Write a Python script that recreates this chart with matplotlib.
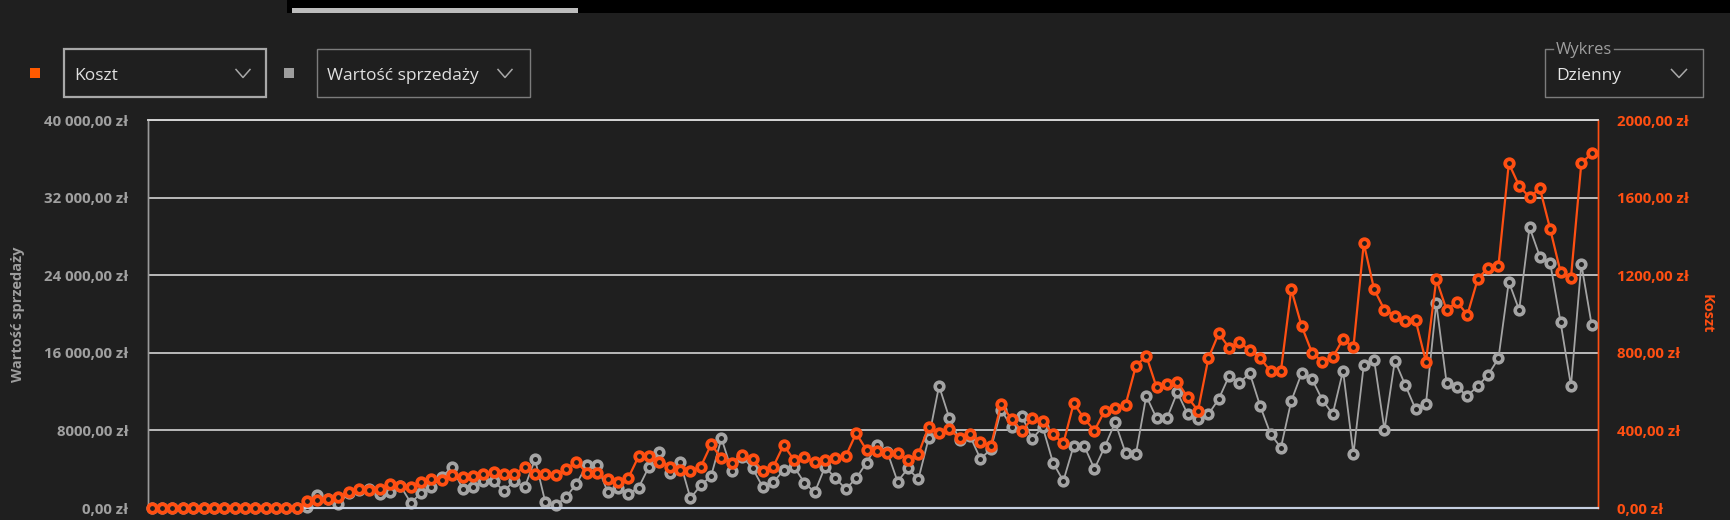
import numpy as np
import matplotlib
matplotlib.use("Agg")
import matplotlib.pyplot as plt
from matplotlib.patches import Rectangle
from matplotlib.lines import Line2D
from matplotlib.ticker import FuncFormatter, FixedLocator

plt.rcParams['font.family'] = ['Open Sans', 'DejaVu Sans']

# daily values (140 days)
koszt = [
    0, 0, 0, 0, 0, 0, 0, 0, 0, 0, 0, 0, 0, 0, 0,
    36, 43, 45, 55, 84, 98, 93, 98, 124, 113, 110, 136, 148, 144, 172,
    158, 164, 174, 185, 177, 175, 210, 177, 175, 170, 200, 239, 180, 180, 148,
    133, 155, 266, 268, 237, 213, 196, 191, 213, 328, 256, 234, 275, 251, 192,
    213, 325, 247, 261, 239, 247, 256, 268, 385, 299, 295, 282, 285, 247, 278,
    419, 388, 405, 359, 381, 342, 320, 536, 457, 397, 462, 448, 381, 333, 540,
    462, 399, 502, 514, 531, 732, 785, 622, 638, 651, 571, 502, 772, 900, 826,
    854, 814, 772, 706, 706, 1127, 938, 801, 754, 776, 871, 828, 1364, 1127, 1021,
    991, 966, 969, 754, 1179, 1021, 1063, 995, 1180, 1239, 1248, 1777, 1660, 1602, 1648,
    1437, 1215, 1187, 1777, 1828,
]
wartosc = [
    0, 0, 0, 0, 0, 0, 0, 0, 0, 0, 0, 0, 0, 0, 0,
    134, 1310, 900, 412, 1500, 1900, 2000, 1400, 1680, 2300, 550, 1515, 2200, 3230, 4195,
    1980, 2200, 2750, 2800, 1753, 2800, 2130, 5020, 570, 280, 1130, 2500, 4400, 4400, 1680,
    2100, 1430, 2100, 4260, 5740, 3640, 4775, 1000, 2340, 3300, 7185, 3815, 5300, 4090, 2130,
    2650, 3918, 4260, 2610, 1615, 4260, 3060, 1960, 3060, 4670, 6495, 5800, 2715, 4090, 2955,
    7185, 12580, 9250, 7000, 7400, 5050, 6080, 10100, 8380, 9485, 7115, 8380, 4670, 2784, 6425,
    6425, 4020, 6320, 8835, 5700, 5535, 11550, 9250, 9250, 11930, 9660, 9180, 9660, 11240, 13610,
    12920, 13885, 10515, 7630, 6220, 11030, 13885, 13300, 11135, 9680, 14155, 5570, 14745, 15260, 8040,
    15190, 12680, 10200, 10720, 21100, 12850, 12440, 11550, 12580, 13710, 15430, 23330, 20410, 28940, 25910,
    25230, 19150, 12580, 25160, 18870,
]
left_ticks = [0, 8000, 16000, 24000, 32000, 40000]
right_ticks = [0, 400, 800, 1200, 1600, 2000]

W, H = 1730, 520
BG = '#1f1f1f'
ORANGE = '#ff4f12'
GRAY = '#a4a4a4'

fig = plt.figure(figsize=(W / 100, H / 100), dpi=100, facecolor=BG)


def fx(x):
    return x / W


def fy(y):
    return 1 - y / H


def rect(x0, y0, x1, y1, **kw):
    fig.add_artist(Rectangle((fx(x0), fy(y1)), (x1 - x0) / W, (y1 - y0) / H,
                             transform=fig.transFigure, **kw))


def chevron(xc, ytop, ybot, half=7):
    fig.add_artist(Line2D([fx(xc - half), fx(xc), fx(xc + half)],
                          [fy(ytop), fy(ybot), fy(ytop)],
                          transform=fig.transFigure, color='#a8a8a8', lw=1.1))


def zl(v, sep):
    s = f"{int(round(v))}"
    if sep and len(s) > 4:
        s = s[:-3] + ' ' + s[-3:]
    return s + ",00 zł"


# top strip
rect(287, 0, W, 13, facecolor='black', edgecolor='none')
rect(292, 8, 578, 13, facecolor='#bdbdbd', edgecolor='none')

# series selectors
rect(30, 68, 40, 78, facecolor='#ff5a00', edgecolor='none')
rect(64, 49, 266, 97, facecolor='none', edgecolor='#a8a8a8', lw=1.6)
fig.text(fx(74.5), fy(80), 'Koszt', color='#e0e0e0', fontsize=12.5, va='baseline')
chevron(243, 69.5, 77.5)

rect(284, 68, 294, 78, facecolor='#9e9e9e', edgecolor='none')
rect(317, 49, 530, 97, facecolor='none', edgecolor='#7c7c7c', lw=1.0)
fig.text(fx(327), fy(80), 'Wartość sprzedaży', color='#e0e0e0', fontsize=12.5, va='baseline')
chevron(505, 69.5, 77.5)

# chart type selector
xs = [1553, 1545, 1545, 1703, 1703, 1614]
ys = [49, 49, 97, 97, 49, 49]
fig.add_artist(Line2D([fx(v) for v in xs], [fy(v) for v in ys],
                      transform=fig.transFigure, color='#7c7c7c', lw=1.0))
fig.text(fx(1556), fy(53.5), 'Wykres', color='#9e9e9e', fontsize=12, va='baseline')
fig.text(fx(1556), fy(80), 'Dzienny', color='#e6e6e6', fontsize=12.5, va='baseline')
chevron(1679, 69.5, 77.5, half=7.5)

# chart
ax = fig.add_axes([fx(148), fy(508), (1598 - 148) / W, (508 - 120) / H])
ax.set_facecolor(BG)
ax2 = ax.twinx()

x = np.arange(len(koszt))
ax.plot(x, wartosc, color=GRAY, lw=1.3, marker='o', ms=6.2, mew=2.6,
        mfc=BG, mec=GRAY, clip_on=False, zorder=3)
ax2.plot(x, koszt, color=ORANGE, lw=1.6, marker='o', ms=6.2, mew=2.7,
         mfc=BG, mec=ORANGE, clip_on=False, zorder=3)

ax.set_xlim(-0.36, len(koszt) - 1 + 0.61)
ax.set_ylim(0, 40000)
ax2.set_ylim(0, 2000)
ax.yaxis.set_major_locator(FixedLocator(left_ticks))
ax2.yaxis.set_major_locator(FixedLocator(right_ticks))
ax.yaxis.set_major_formatter(FuncFormatter(lambda v, p: zl(v, True)))
ax2.yaxis.set_major_formatter(FuncFormatter(lambda v, p: zl(v, False)))
ax.set_xticks([])

ax.grid(axis='y', color='#d4d4d4', lw=1.2, zorder=0)
ax.set_axisbelow(True)
ax.tick_params(axis='y', length=0, pad=14, labelsize=10.8, labelcolor='#a0a0a0')
ax2.tick_params(axis='y', length=0, pad=14, labelsize=10.8, labelcolor=ORANGE)
for lab in ax.get_yticklabels() + ax2.get_yticklabels():
    lab.set_fontweight('bold')

for a in (ax, ax2):
    a.spines['top'].set_color('#d4d4d4')
    a.spines['top'].set_linewidth(1.2)
    a.spines['bottom'].set_color('#c5cfe0')
    a.spines['bottom'].set_linewidth(1.5)
    a.spines['left'].set_color('#9a9a9a')
    a.spines['left'].set_linewidth(1.0)
    a.spines['right'].set_color(ORANGE)
    a.spines['right'].set_linewidth(1.0)

ax.set_ylabel('Wartość sprzedaży', color='#9e9e9e', fontsize=10.5, fontweight='bold')
ax.yaxis.set_label_coords((25 - 148) / 1450, 0.5)
ax2.set_ylabel('Koszt', color=ORANGE, fontsize=10.5, fontweight='bold', rotation=270, va='center')
ax2.yaxis.set_label_coords((1707 - 148) / 1450, 0.5)

fig.savefig('out.png', dpi=100, facecolor=BG)
